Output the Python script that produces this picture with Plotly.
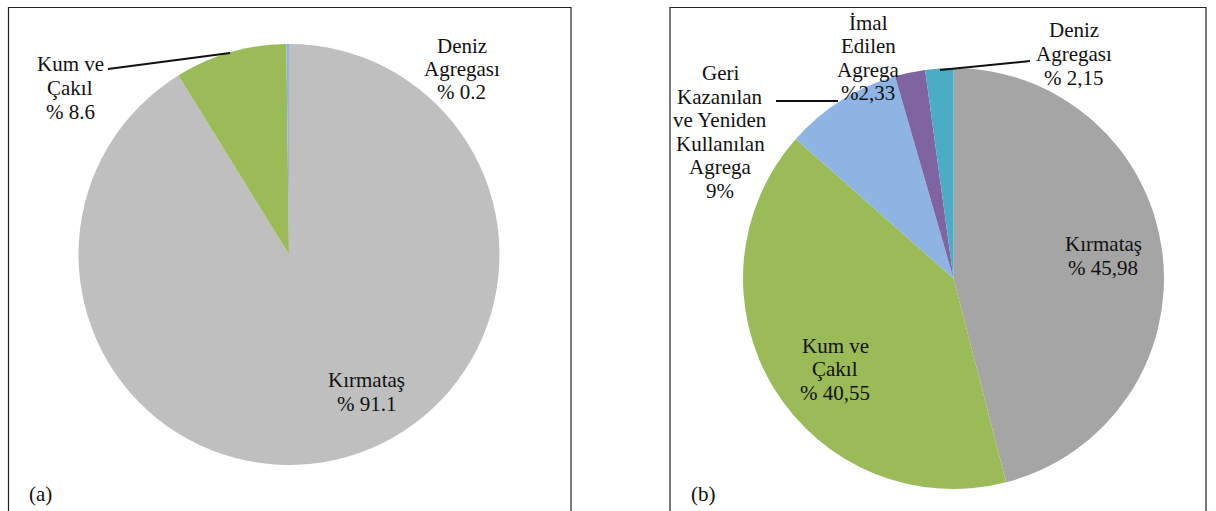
import plotly.graph_objects as go

# (a) chart data
labels_a = ['Kırmataş', 'Kum ve Çakıl', 'Deniz Agregası']
values_a = [91.1, 8.6, 0.2]
text_a = ['Kırmataş<br>% 91.1', 'Kum ve<br>Çakıl<br>% 8.6', 'Deniz<br>Agregası<br>% 0.2']

# (b) chart data
labels_b = ['Kırmataş', 'Kum ve Çakıl', 'Geri Kazanılan ve Yeniden Kullanılan Agrega',
            'İmal Edilen Agrega', 'Deniz Agregası']
values_b = [45.98, 40.55, 9, 2.33, 2.15]
text_b = ['Kırmataş<br>% 45,98', 'Kum ve<br>Çakıl<br>% 40,55',
          'Geri<br>Kazanılan<br>ve Yeniden<br>Kullanılan<br>Agrega<br>9%',
          'İmal<br>Edilen<br>Agrega<br>%2,33', 'Deniz<br>Agregası<br>% 2,15']

colors_a = ['#BFBFBF', '#9BBB59', '#8EB4E3']
colors_b = ['#A5A5A5', '#9BBB59', '#8EB4E3', '#8064A2', '#4BACC6']

W, H = 1216, 511
FONT = 'Liberation Serif'
LINE_H = 23.5


def px(x, y):
    # pixel position -> paper coords
    return x / W, 1 - y / H


def dom(cx, cy, r):
    x0, y0 = px(cx - r, cy + r)
    x1, y1 = px(cx + r, cy - r)
    return dict(x=[x0, x1], y=[y0, y1])


fig = go.Figure()

fig.add_trace(go.Pie(
    labels=labels_a, values=values_a, sort=False, direction='clockwise', rotation=0,
    marker=dict(colors=colors_a, line=dict(width=0)),
    textinfo='none', hoverinfo='label+value', showlegend=False,
    domain=dom(289, 254.5, 210.5),
))

fig.add_trace(go.Pie(
    labels=labels_b, values=values_b, sort=False, direction='clockwise', rotation=0,
    marker=dict(colors=colors_b, line=dict(width=0)),
    textinfo='none', hoverinfo='label+value', showlegend=False,
    domain=dom(953.5, 278.5, 210.5),
))

# label positions (pixel centres)
pos_a = [(367, 392), (70, 88), (462, 69)]
pos_b = [(1103, 256), (835, 369), (720, 132), (868, 58), (1074, 54)]

annotations = []
for t, (x, y) in list(zip(text_a, pos_a)) + list(zip(text_b, pos_b)) + \
        [('(a)', (40, 494)), ('(b)', (703, 494))]:
    lines = t.split('<br>')
    n = len(lines)
    for i, ln in enumerate(lines):
        ax, ay = px(x, y + (i - (n - 1) / 2) * LINE_H)
        annotations.append(dict(x=ax, y=ay, xref='paper', yref='paper', text=ln,
                                showarrow=False, xanchor='center', yanchor='middle',
                                font=dict(family=FONT, size=21, color='#111111')))

shapes = []
# panel borders (open at the bottom)
for x0, x1 in [(8.5, 571), (670, 1206)]:
    a0 = px(x0, 7.5)
    a1 = px(x1, 530)
    shapes.append(dict(type='rect', xref='paper', yref='paper',
                       x0=a0[0], y0=a1[1], x1=a1[0], y1=a0[1],
                       line=dict(color='#222222', width=1.2)))

# leader lines
for (x0, y0), (x1, y1) in [((108, 69), (230, 53)),
                           ((776, 101), (838, 101)),
                           ((1030, 61), (940, 70))]:
    p0 = px(x0, y0)
    p1 = px(x1, y1)
    shapes.append(dict(type='line', xref='paper', yref='paper',
                       x0=p0[0], y0=p0[1], x1=p1[0], y1=p1[1],
                       line=dict(color='#111111', width=2)))

fig.update_layout(
    width=W, height=H,
    margin=dict(l=0, r=0, t=0, b=0),
    paper_bgcolor='white', plot_bgcolor='white',
    font=dict(family=FONT),
    annotations=annotations, shapes=shapes,
)

# drop the page's default body margin so the figure fills the window
fig.write_html('out.html', config={'displayModeBar': False},
               post_script='document.body.style.margin = "0";')
